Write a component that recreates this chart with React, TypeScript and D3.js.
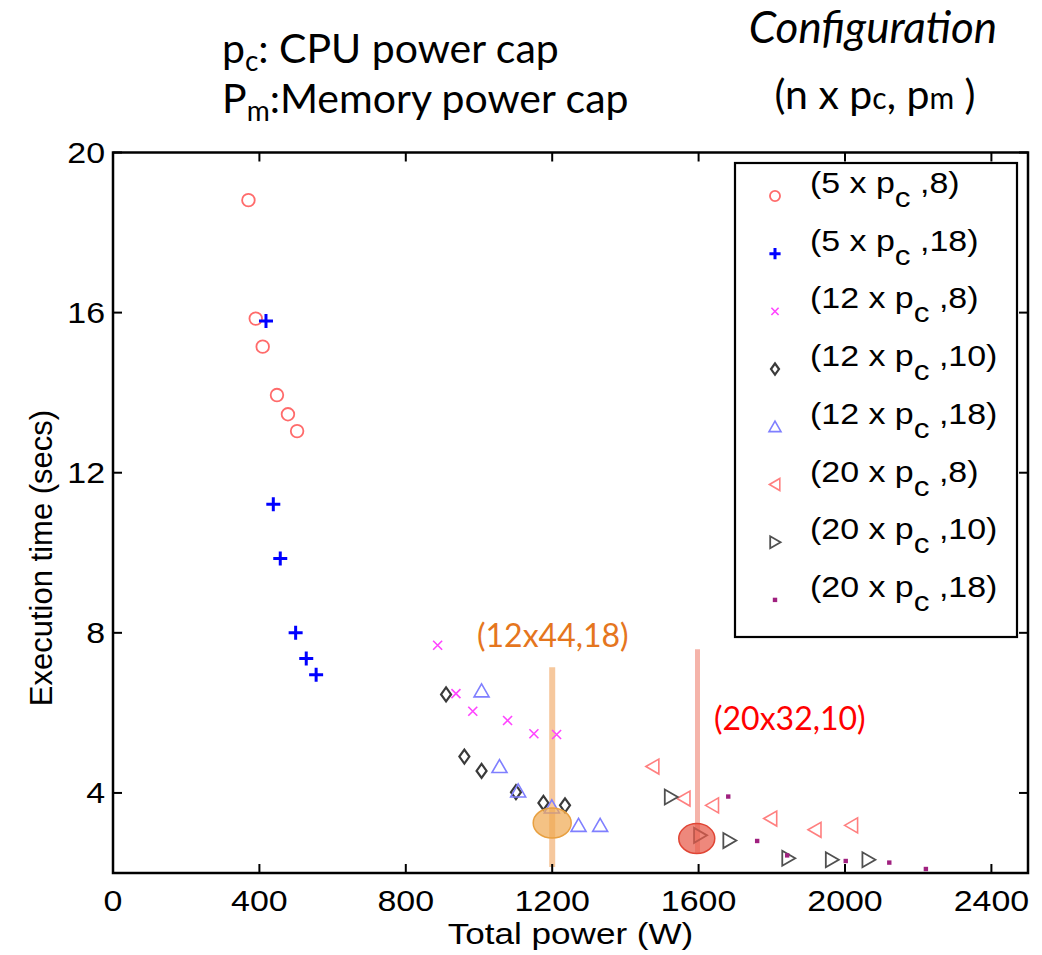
import React from "react";
import * as d3 from "d3";

const X_TICKS = [0, 400, 800, 1200, 1600, 2000, 2400];
const Y_TICKS = [4, 8, 12, 16, 20];

const S1_X = [370, 390, 409, 448, 478, 503];
const S1_Y = [18.81, 15.85, 15.15, 13.94, 13.46, 13.04];
const S2_X = [418, 438, 457, 499, 528, 555];
const S2_Y = [15.79, 11.21, 9.86, 8.0, 7.36, 6.95];
const S3_X = [887, 937, 983, 1078, 1150, 1212];
const S3_Y = [7.69, 6.48, 6.04, 5.81, 5.48, 5.46];
const S4_X = [910, 960, 1007, 1101, 1176, 1235];
const S4_Y = [6.46, 4.91, 4.55, 4.02, 3.75, 3.69];
const S5_X = [1007, 1056, 1107, 1199, 1272, 1331];
const S5_Y = [6.55, 4.66, 4.05, 3.65, 3.19, 3.19];
const S6_X = [1475, 1560, 1638, 1797, 1918, 2018];
const S6_Y = [4.66, 3.86, 3.69, 3.36, 3.08, 3.19];
const S7_X = [1524, 1604, 1684, 1845, 1964, 2064];
const S7_Y = [3.9, 2.94, 2.81, 2.37, 2.33, 2.33];
const S8_X = [1681, 1760, 1842, 2002, 2121, 2221];
const S8_Y = [3.91, 2.8, 2.44, 2.3, 2.26, 2.1];

const LEGEND_N = ["5", "5", "12", "12", "12", "20", "20", "20"];
const LEGEND_M = ["8", "18", "8", "10", "18", "8", "10", "18"];

type Series = { xs: number[]; ys: number[]; marker: string; color: string };
const SERIES: Series[] = [
  { xs: S1_X, ys: S1_Y, marker: "circle", color: "#ff6b6b" },
  { xs: S2_X, ys: S2_Y, marker: "plus", color: "#0000ff" },
  { xs: S3_X, ys: S3_Y, marker: "x", color: "#ff44ff" },
  { xs: S4_X, ys: S4_Y, marker: "diamond", color: "#3a3a3a" },
  { xs: S5_X, ys: S5_Y, marker: "triup", color: "#7f7fff" },
  { xs: S6_X, ys: S6_Y, marker: "trileft", color: "#ff7f7f" },
  { xs: S7_X, ys: S7_Y, marker: "triright", color: "#505050" },
  { xs: S8_X, ys: S8_Y, marker: "dot", color: "#a0207f" },
];

const W = 1042;
const H = 955;
const L = 113, R = 1028, T = 152.5, B = 873;

const x = d3.scaleLinear().domain([0, 2500]).range([L, R]);
const y = d3.scaleLinear().domain([2, 20]).range([B, T]);

function Marker({ type, cx, cy, color, s = 1 }: { type: string; cx: number; cy: number; color: string; s?: number }) {
  const g = { fill: "none", stroke: color };
  switch (type) {
    case "circle":
      return <circle cx={cx} cy={cy} r={6.3 * s} {...g} strokeWidth={1.8} />;
    case "plus":
      return (
        <path d={`M${cx - 7 * s},${cy}H${cx + 7 * s}M${cx},${cy - 7 * s}V${cy + 7 * s}`} {...g} strokeWidth={3} />
      );
    case "x":
      return (
        <path
          d={`M${cx - 4.5 * s},${cy - 4.5 * s}L${cx + 4.5 * s},${cy + 4.5 * s}M${cx - 4.5 * s},${cy + 4.5 * s}L${cx + 4.5 * s},${cy - 4.5 * s}`}
          {...g}
          strokeWidth={1.6}
        />
      );
    case "diamond":
      return (
        <path
          d={`M${cx},${cy - 7 * s}L${cx + 5 * s},${cy}L${cx},${cy + 7 * s}L${cx - 5 * s},${cy}Z`}
          {...g}
          strokeWidth={2.2}
        />
      );
    case "triup":
      return (
        <path d={`M${cx},${cy - 7 * s}L${cx + 7.5 * s},${cy + 6 * s}L${cx - 7.5 * s},${cy + 6 * s}Z`} {...g} strokeWidth={1.6} />
      );
    case "trileft":
      return (
        <path d={`M${cx - 7 * s},${cy}L${cx + 6 * s},${cy - 7.5 * s}L${cx + 6 * s},${cy + 7.5 * s}Z`} {...g} strokeWidth={1.6} />
      );
    case "triright":
      return (
        <path d={`M${cx + 7 * s},${cy}L${cx - 6 * s},${cy - 7.5 * s}L${cx - 6 * s},${cy + 7.5 * s}Z`} {...g} strokeWidth={1.8} />
      );
    case "dot":
      return <rect x={cx - 2.2} y={cy - 2.2} width={4.4} height={4.4} fill={color} />;
  }
  return null;
}

const AX_FONT = "'Liberation Sans', Arial, Helvetica, sans-serif";
const SLIDE_FONT = "Lato, 'Open Sans', sans-serif";
const SX = 1.17;

export default function App() {
  const tickLen = 9;
  const legX = 735, legY = 163, legW = 282, legH = 474;
  const rowH = 57.7;
  return (
    <svg width={W} height={H} style={{ position: "absolute", left: 0, top: 0, background: "#fff" }}>
      {/* header text */}
      <g fontFamily={SLIDE_FONT} fill="#000" fontSize={41}>
        <text x={222} y={63}>
          p<tspan fontSize={28} dy={8}>c</tspan>
          <tspan dy={-8}>: CPU power cap</tspan>
        </text>
        <text x={222} y={113}>
          P<tspan fontSize={28} dy={8}>m</tspan>
          <tspan dy={-8}>:Memory power cap</tspan>
        </text>
        <text x={873} y={43} textAnchor="middle" fontStyle="italic" fontSize={44}>
          Configuration
        </text>
        <text x={875} y={109} textAnchor="middle">
          (n x p<tspan fontSize={30}>c</tspan>, p<tspan fontSize={30}>m</tspan> )
        </text>
      </g>

      {/* highlight lines */}
      <line x1={x(1200)} x2={x(1200)} y1={y(7.14)} y2={y(2.15)} stroke="#f5bf8c" strokeWidth={6} opacity={0.85} />
      <line x1={x(1597)} x2={x(1597)} y1={y(7.59)} y2={y(2.5)} stroke="#f4a89c" strokeWidth={5} opacity={0.85} />

      {/* markers */}
      {SERIES.map((s, i) => (
        <g key={i}>
          {s.xs.map((xv, j) => (
            <Marker key={j} type={s.marker} cx={x(xv)} cy={y(s.ys[j])} color={s.color} />
          ))}
        </g>
      ))}

      {/* highlight ellipses */}
      <ellipse cx={x(1200)} cy={y(3.25)} rx={19} ry={15} fill="#f0a850" fillOpacity={0.7} stroke="#e8a040" strokeWidth={1.5} />
      <ellipse cx={x(1595)} cy={y(2.86)} rx={18} ry={15} fill="#e85a4a" fillOpacity={0.72} stroke="#e04535" strokeWidth={1.5} />

      {/* annotations */}
      <text x={477} y={647} fontFamily={SLIDE_FONT} fontSize={32} fill="#e5761e">
        (12x44,18)
      </text>
      <text x={714} y={730} fontFamily={SLIDE_FONT} fontSize={32} fill="#ff0000">
        (20x32,10)
      </text>

      {/* frame */}
      <rect x={L} y={T} width={R - L} height={B - T} fill="none" stroke="#000" strokeWidth={2.5} />
      {X_TICKS.map((t) => (
        <g key={"xt" + t}>
          <line x1={x(t)} x2={x(t)} y1={B} y2={B - tickLen} stroke="#000" strokeWidth={2} />
          <line x1={x(t)} x2={x(t)} y1={T} y2={T + tickLen} stroke="#000" strokeWidth={2} />
          <text
            transform={`translate(${x(t)},${911}) scale(${SX},1)`}
            textAnchor="middle"
            fontFamily={AX_FONT}
            fontSize={29}
          >
            {t}
          </text>
        </g>
      ))}
      {Y_TICKS.map((t) => (
        <g key={"yt" + t}>
          <line x1={L} x2={L + tickLen} y1={y(t)} y2={y(t)} stroke="#000" strokeWidth={2} />
          <line x1={R} x2={R - tickLen} y1={y(t)} y2={y(t)} stroke="#000" strokeWidth={2} />
          <text
            transform={`translate(${105},${y(t) + 10.5}) scale(${SX},1)`}
            textAnchor="end"
            fontFamily={AX_FONT}
            fontSize={29}
          >
            {t}
          </text>
        </g>
      ))}
      <text
        transform={`translate(${(L + R) / 2},${944}) scale(${SX},1)`}
        textAnchor="middle"
        fontFamily={AX_FONT}
        fontSize={30}
      >
        Total power (W)
      </text>
      <text
        transform={`translate(${52},${558}) rotate(-90)`}
        textAnchor="middle"
        fontFamily={AX_FONT}
        fontSize={31}
      >
        Execution time (secs)
      </text>

      {/* legend */}
      <rect x={legX} y={legY} width={legW} height={legH} fill="#fff" stroke="#000" strokeWidth={2.2} />
      {SERIES.map((s, i) => {
        const by = 193 + i * rowH;
        return (
          <g key={"lg" + i}>
            <Marker type={s.marker} cx={775} cy={by + 3} color={s.color} s={0.8} />
            <text transform={`translate(${810},${by}) scale(${SX},1)`} fontFamily={AX_FONT} fontSize={29}>
              ({LEGEND_N[i]} x p
              <tspan dy={14} fontSize={27}>
                c
              </tspan>
              <tspan dy={-14}> ,{LEGEND_M[i]})</tspan>
            </text>
          </g>
        );
      })}
    </svg>
  );
}
